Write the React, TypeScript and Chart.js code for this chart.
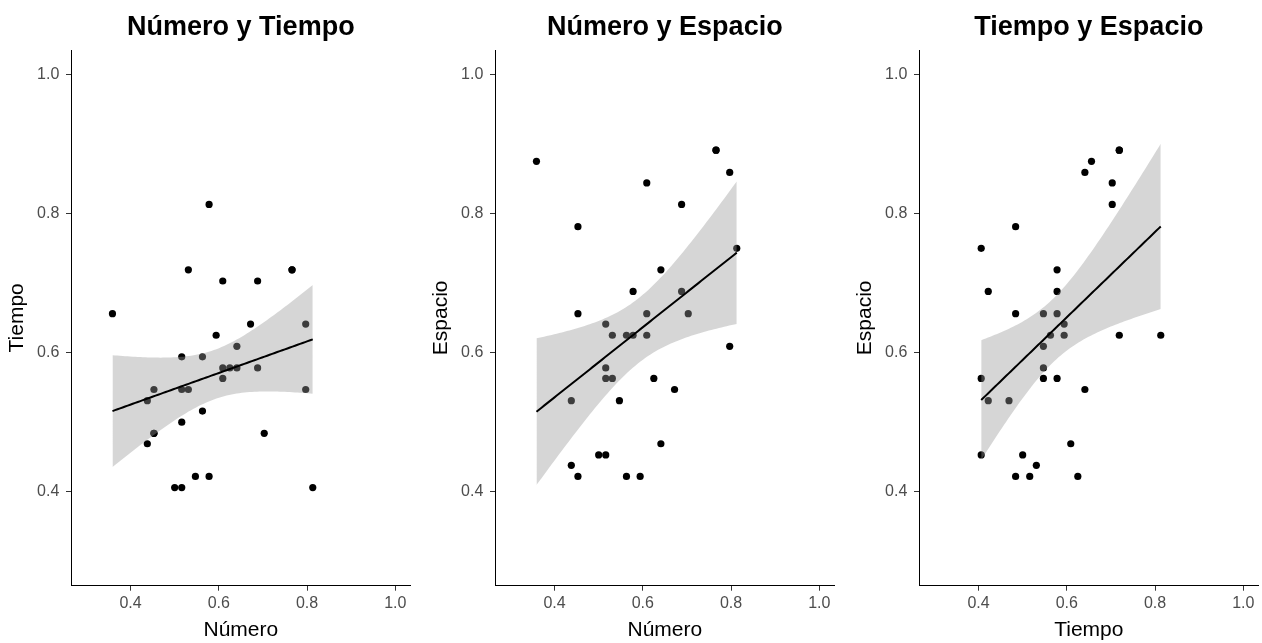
import { useEffect, useRef } from "react";
import { Chart, registerables } from "chart.js";

Chart.register(...registerables);

// Data per subject (34 subjects; the first two coincide and overlap in every panel)
const numero = [0.766, 0.766, 0.359, 0.797, 0.609, 0.688, 0.453, 0.813, 0.641, 0.578, 0.688, 0.703, 0.453, 0.609, 0.516, 0.531, 0.563, 0.578, 0.609, 0.797, 0.516, 0.516, 0.531, 0.625, 0.672, 0.438, 0.547, 0.641, 0.5, 0.516, 0.438, 0.453, 0.563, 0.594];
const tiempo = [0.719, 0.719, 0.656, 0.641, 0.703, 0.703, 0.484, 0.406, 0.578, 0.422, 0.578, 0.484, 0.547, 0.578, 0.594, 0.719, 0.594, 0.813, 0.563, 0.547, 0.547, 0.406, 0.547, 0.578, 0.641, 0.469, 0.422, 0.609, 0.406, 0.5, 0.531, 0.484, 0.516, 0.625];
const espacio = [0.891, 0.891, 0.875, 0.859, 0.844, 0.813, 0.781, 0.75, 0.719, 0.688, 0.688, 0.656, 0.656, 0.656, 0.641, 0.625, 0.625, 0.625, 0.625, 0.609, 0.578, 0.563, 0.563, 0.563, 0.547, 0.531, 0.531, 0.469, 0.453, 0.453, 0.438, 0.422, 0.422, 0.422];

const tickValues = [0.4, 0.6, 0.8, 1.0];
const axisMin = 0.265;
const axisMax = 1.035;

const panelTitles = ["Número y Tiempo", "Número y Espacio", "Tiempo y Espacio"];
const panelXLabels = ["Número", "Número", "Tiempo"];
const panelYLabels = ["Tiempo", "Espacio", "Espacio"];
const panelXData = [numero, numero, tiempo];
const panelYData = [tiempo, espacio, espacio];

const FONT = "'Liberation Sans', Arial, Helvetica, sans-serif";

// two-sided 95% t quantile for df = n - 2
function tQuantile(df: number) {
  const table: Record<number, number> = { 30: 2.0423, 31: 2.0395, 32: 2.0369, 33: 2.0345 };
  return table[df] ?? 2.04;
}

function fitLm(xs: number[], ys: number[]) {
  const n = xs.length;
  const mx = xs.reduce((a, b) => a + b, 0) / n;
  const my = ys.reduce((a, b) => a + b, 0) / n;
  let sxx = 0, sxy = 0;
  for (let i = 0; i < n; i++) {
    sxx += (xs[i] - mx) ** 2;
    sxy += (xs[i] - mx) * (ys[i] - my);
  }
  const b = sxy / sxx;
  const a = my - b * mx;
  let sse = 0;
  for (let i = 0; i < n; i++) sse += (ys[i] - a - b * xs[i]) ** 2;
  const s = Math.sqrt(sse / (n - 2));
  const t = tQuantile(n - 2);
  const xmin = Math.min(...xs);
  const xmax = Math.max(...xs);
  const line: { x: number; y: number }[] = [];
  const upper: { x: number; y: number }[] = [];
  const lower: { x: number; y: number }[] = [];
  const steps = 80;
  for (let k = 0; k < steps; k++) {
    const x = xmin + ((xmax - xmin) * k) / (steps - 1);
    const yh = a + b * x;
    const se = s * Math.sqrt(1 / n + (x - mx) ** 2 / sxx);
    line.push({ x, y: yh });
    upper.push({ x, y: yh + t * se });
    lower.push({ x, y: yh - t * se });
  }
  return { line, upper, lower };
}

function Panel({ idx }: { idx: number }) {
  const ref = useRef<HTMLCanvasElement>(null);
  useEffect(() => {
    if (!ref.current) return;
    const xs = panelXData[idx];
    const ys = panelYData[idx];
    const pts = xs.map((x, i) => ({ x, y: ys[i] }));
    const { line, upper, lower } = fitLm(xs, ys);
    const setTicks = (scale: any) => {
      scale.ticks = tickValues.map((v) => ({ value: v }));
    };
    const chart = new Chart(ref.current, {
      type: "scatter",
      data: {
        datasets: [
          {
            type: "scatter",
            data: pts,
            pointRadius: 3.6,
            pointHoverRadius: 3.6,
            backgroundColor: "#000",
            borderWidth: 0,
            order: 3,
          } as any,
          {
            type: "line",
            data: upper,
            borderWidth: 0,
            pointRadius: 0,
            fill: "+1",
            backgroundColor: "rgba(153,153,153,0.4)",
            tension: 0,
            order: 2,
          } as any,
          {
            type: "line",
            data: lower,
            borderWidth: 0,
            pointRadius: 0,
            fill: false,
            tension: 0,
            order: 2,
          } as any,
          {
            type: "line",
            data: line,
            borderColor: "#000",
            borderWidth: 2,
            pointRadius: 0,
            fill: false,
            tension: 0,
            order: 1,
          } as any,
        ],
      },
      options: {
        animation: false,
        responsive: false,
        events: [],
        layout: { padding: { left: 0, right: 13.3, top: 0, bottom: 0 } },
        plugins: {
          legend: { display: false },
          tooltip: { enabled: false },
          title: {
            display: true,
            text: panelTitles[idx],
            fullSize: false,
            color: "#000",
            font: { family: FONT, size: 27, weight: "bold" },
            padding: { top: 11.3, bottom: 6.3 },
          },
        },
        scales: {
          x: {
            type: "linear",
            min: axisMin,
            max: axisMax,
            afterBuildTicks: setTicks,
            afterFit: (s: any) => {
              s.height = 57.3;
            },
            ticks: {
              color: "#4d4d4d",
              font: { family: FONT, size: 16 },
              padding: 3,
              maxRotation: 0,
              autoSkip: false,
              callback: (v: any) => Number(v).toFixed(1),
            },
            grid: { drawOnChartArea: false, drawTicks: true, tickLength: 5, color: "#333" },
            border: { display: true, color: "#000", width: 1 },
            title: {
              display: true,
              text: panelXLabels[idx],
              color: "#000",
              font: { family: FONT, size: 21 },
              padding: { top: 1.5, bottom: 0.4 },
            },
          },
          y: {
            type: "linear",
            min: axisMin,
            max: axisMax,
            afterBuildTicks: setTicks,
            afterFit: (s: any) => {
              s.width = 71;
            },
            ticks: {
              color: "#4d4d4d",
              font: { family: FONT, size: 16 },
              padding: 6.7,
              autoSkip: false,
              callback: (v: any) => Number(v).toFixed(1),
            },
            grid: { drawOnChartArea: false, drawTicks: true, tickLength: 5, color: "#333" },
            border: { display: true, color: "#000", width: 1 },
            title: {
              display: true,
              text: panelYLabels[idx],
              color: "#000",
              font: { family: FONT, size: 21 },
              padding: { top: 4.4, bottom: 0 },
            },
          },
        },
      } as any,
    });
    return () => chart.destroy();
  }, [idx]);
  return (
    <div style={{ position: "absolute", left: idx * 424, top: 0, width: 424, height: 643 }}>
      <canvas ref={ref} width={424} height={643} style={{ width: 424, height: 643, display: "block" }} />
    </div>
  );
}

export default function App() {
  return (
    <div
      style={{
        position: "fixed",
        left: 0,
        top: 0,
        width: 1262,
        height: 643,
        background: "#fff",
        overflow: "hidden",
      }}
    >
      {[0, 1, 2].map((i) => (
        <Panel key={i} idx={i} />
      ))}
    </div>
  );
}
